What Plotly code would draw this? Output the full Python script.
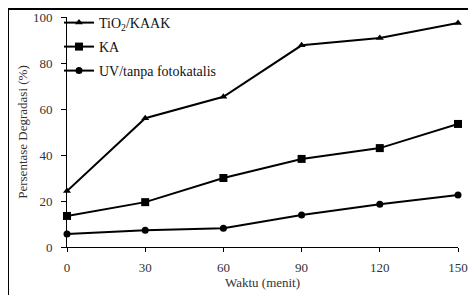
import plotly.graph_objects as go

waktu = [0, 30, 60, 90, 120, 150]
tio2_kaak = [24.3, 56.0, 65.3, 87.7, 90.9, 97.4]
ka = [13.5, 19.5, 30.0, 38.3, 43.0, 53.5]
uv = [5.6, 7.3, 8.2, 13.9, 18.6, 22.6]
names = ["TiO<sub>2</sub>/KAAK", "KA", "UV/tanpa fotokatalis"]
xticks = [0, 30, 60, 90, 120, 150]
yticks = [0, 20, 40, 60, 80, 100]

font_family = "Liberation Serif, Times New Roman, serif"

OFF = 8
W, H = 468, 287
X0, X1 = 67, 458
Y_TOP, Y_BOT = 17, 247

def px_x(sx):
    return (sx - OFF) / W

def px_y(sy):
    return 1 - (sy - OFF) / H

fig = go.Figure()

# empty trace so the frame subplot exists
fig.add_trace(go.Scatter(x=[], y=[], xaxis="x2", yaxis="y2", showlegend=False,
                         hoverinfo="skip"))

series = [(tio2_kaak, "triangle-up", 7), (ka, "square", 8), (uv, "circle", 7)]
legend_ids = ["legend", "legend2", "legend3"]
for (vals, sym, sz), nm, lg in zip(series, names, legend_ids):
    fig.add_trace(go.Scatter(
        x=waktu, y=vals, name=nm, mode="lines+markers",
        line=dict(color="black", width=2),
        marker=dict(symbol=sym, size=sz, color="black"),
        cliponaxis=False, legend=lg,
    ))

def leg(sy):
    return dict(x=px_x(59), y=px_y(sy), xanchor="left", yanchor="middle",
                bgcolor="rgba(0,0,0,0)", font=dict(size=14, family=font_family, color="#111"),
                itemwidth=30, borderwidth=0)

frame_axis = dict(showline=True, mirror=True, linecolor="black", linewidth=1.5,
                  showticklabels=False, ticks="", showgrid=False, zeroline=False,
                  range=[0, 1], fixedrange=True)

fig.update_layout(
    width=W, height=H,
    margin=dict(l=0, r=0, t=0, b=0, autoexpand=False),
    paper_bgcolor="white", plot_bgcolor="rgba(0,0,0,0)",
    font=dict(family=font_family, size=13, color="#333"),
    showlegend=True,
    legend=leg(23), legend2=leg(47), legend3=leg(71),
    xaxis=dict(domain=[px_x(X0), px_x(X1)], range=[0, 150], tickvals=xticks,
               showline=True, linecolor="black", linewidth=1, ticks="outside",
               ticklen=4, tickcolor="black", showgrid=False, zeroline=False,
               ticklabelstandoff=4,
               title=dict(text="Waktu (menit)", standoff=3, font=dict(size=13))),
    yaxis=dict(domain=[px_y(Y_BOT), px_y(Y_TOP)], range=[0, 100], tickvals=yticks,
               showline=True, linecolor="black", linewidth=1, ticks="outside",
               ticklen=5, tickcolor="black", showgrid=False, zeroline=False,
               ticklabelstandoff=6,
               title=dict(text="Persentase Degradasi (%)", standoff=2, font=dict(size=13))),
    xaxis2=dict(domain=[px_x(9), px_x(473)], anchor="y2", **frame_axis),
    yaxis2=dict(domain=[0, px_y(9.5)], anchor="x2", **frame_axis),
)

fig.write_html("out.html")
